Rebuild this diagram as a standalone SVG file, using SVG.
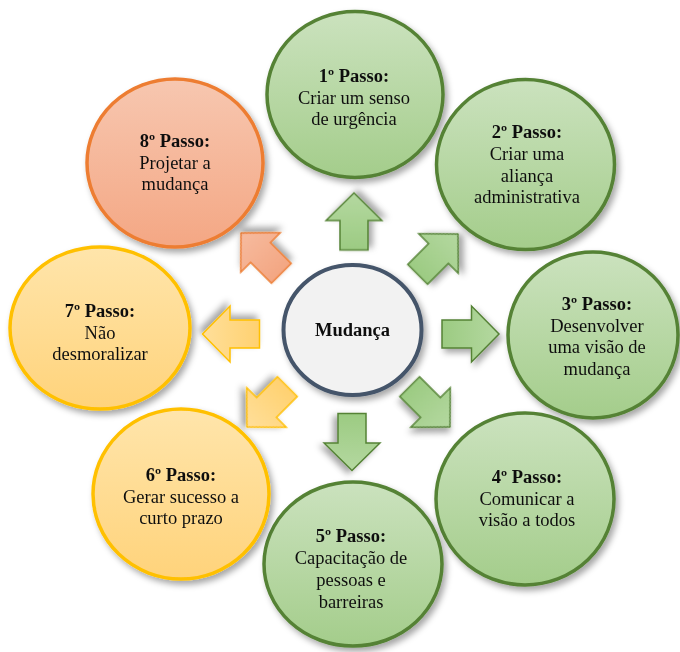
<svg xmlns="http://www.w3.org/2000/svg" xmlns:xlink="http://www.w3.org/1999/xlink" width="680" height="652" viewBox="0 0 680 652">
  <defs>
    <filter id="shadow" x="-20%" y="-20%" width="150%" height="150%">
      <feDropShadow dx="3" dy="4" stdDeviation="3" flood-color="#000" flood-opacity="0.35"/>
    </filter>
    <linearGradient id="gGreen" x1="0" y1="0" x2="0" y2="1">
      <stop offset="0" stop-color="#cbe2be"/>
      <stop offset="1" stop-color="#a4cd8b"/>
    </linearGradient>
    <linearGradient id="gOrange" x1="0" y1="0" x2="0" y2="1">
      <stop offset="0" stop-color="#f7c7b0"/>
      <stop offset="1" stop-color="#f4a784"/>
    </linearGradient>
    <linearGradient id="gYellow" x1="0" y1="0" x2="0" y2="1">
      <stop offset="0" stop-color="#ffe5ab"/>
      <stop offset="1" stop-color="#ffd37b"/>
    </linearGradient>
    <linearGradient id="aGreen" x1="0" y1="0" x2="1" y2="0">
      <stop offset="0" stop-color="#9ccb82"/>
      <stop offset="1" stop-color="#b4d8a0"/>
    </linearGradient>
    <linearGradient id="aOrange" x1="0" y1="0" x2="1" y2="0">
      <stop offset="0" stop-color="#f3a682"/>
      <stop offset="1" stop-color="#f6bb9f"/>
    </linearGradient>
    <linearGradient id="aYellow" x1="0" y1="0" x2="1" y2="0">
      <stop offset="0" stop-color="#ffd170"/>
      <stop offset="1" stop-color="#ffdf9a"/>
    </linearGradient>
    <!-- block arrow pointing right, centred on the origin -->
    <path id="arrow" d="M-28.5,-14 H1 V-28 L28.5,0 L1,28 V14 H-28.5 Z"/>
    <style>
      .node { filter: url(#shadow); }
      .green { fill: url(#gGreen); stroke: #548235; stroke-width: 3.5; }
      .orange { fill: url(#gOrange); stroke: #ed7d31; stroke-width: 3.5; }
      .yellow { fill: url(#gYellow); stroke: #ffc000; stroke-width: 3.5; }
      .hub { fill: #f2f2f2; stroke: #44546a; stroke-width: 4; }
      .arr { filter: url(#shadow); stroke-width: 1.5; stroke-linejoin: miter; }
      .arr-green { fill: url(#aGreen); stroke: #548235; }
      .arr-orange { fill: url(#aOrange); stroke: #ed7d31; }
      .arr-yellow { fill: url(#aYellow); stroke: #ffc000; }
      text { font-family: "Liberation Serif", "Times New Roman", serif; font-size: 18.5px; fill: #111; text-anchor: middle; }
      .b { font-weight: bold; }
    </style>
  </defs>

  <rect width="680" height="652" fill="#ffffff"/>

  <!-- arrows from the hub towards each step -->
  <g id="connectors">
    <use xlink:href="#arrow" class="arr arr-green" transform="translate(354,221.5) rotate(-90)"/>
    <use xlink:href="#arrow" class="arr arr-green" transform="translate(437.8,254.2) rotate(-45)"/>
    <use xlink:href="#arrow" class="arr arr-green" transform="translate(470.5,334)"/>
    <use xlink:href="#arrow" class="arr arr-green" transform="translate(429.8,406.8) rotate(45)"/>
    <use xlink:href="#arrow" class="arr arr-green" transform="translate(352,442) rotate(90)"/>
    <use xlink:href="#arrow" class="arr arr-yellow" transform="translate(267.2,406.8) rotate(135)"/>
    <use xlink:href="#arrow" class="arr arr-yellow" transform="translate(231,334) rotate(180)"/>
    <use xlink:href="#arrow" class="arr arr-orange" transform="translate(261.2,253.2) rotate(-135)"/>
  </g>

  <g id="hub" class="node">
    <ellipse class="hub" cx="352.5" cy="330" rx="69" ry="65"/>
    <text class="b" x="352.5" y="336">Mudança</text>
  </g>

  <g id="step1" class="node">
    <ellipse class="green" cx="355" cy="94.5" rx="88" ry="83"/>
    <text class="b" x="354" y="82">1º Passo:</text>
    <text x="354" y="103.5">Criar um senso</text>
    <text x="354" y="125">de urgência</text>
  </g>

  <g id="step2" class="node">
    <ellipse class="green" cx="525.5" cy="164.5" rx="89" ry="85"/>
    <text class="b" x="527" y="138">2º Passo:</text>
    <text x="527" y="160">Criar uma</text>
    <text x="527" y="181.5">aliança</text>
    <text x="527" y="203">administrativa</text>
  </g>

  <g id="step3" class="node">
    <ellipse class="green" cx="593" cy="335" rx="85" ry="83"/>
    <text class="b" x="597" y="310">3º Passo:</text>
    <text x="597" y="331.5">Desenvolver</text>
    <text x="597" y="353">uma visão de</text>
    <text x="597" y="374.5">mudança</text>
  </g>

  <g id="step4" class="node">
    <ellipse class="green" cx="525" cy="499" rx="89" ry="86"/>
    <text class="b" x="527" y="483">4º Passo:</text>
    <text x="527" y="504.5">Comunicar a</text>
    <text x="527" y="526">visão a todos</text>
  </g>

  <g id="step5" class="node">
    <ellipse class="green" cx="353" cy="564" rx="89" ry="82"/>
    <text class="b" x="351" y="542">5º Passo:</text>
    <text x="351" y="564">Capacitação de</text>
    <text x="351" y="586">pessoas e</text>
    <text x="351" y="607.5">barreiras</text>
  </g>

  <g id="step6" class="node">
    <ellipse class="yellow" cx="181" cy="494" rx="88" ry="85"/>
    <text class="b" x="181" y="481">6º Passo:</text>
    <text x="181" y="502.5">Gerar sucesso a</text>
    <text x="181" y="524">curto prazo</text>
  </g>

  <g id="step7" class="node">
    <ellipse class="yellow" cx="100" cy="328" rx="90" ry="81"/>
    <text class="b" x="100" y="317">7º Passo:</text>
    <text x="100" y="338.5">Não</text>
    <text x="100" y="360">desmoralizar</text>
  </g>

  <g id="step8" class="node">
    <ellipse class="orange" cx="175" cy="163" rx="88" ry="84"/>
    <text class="b" x="175" y="147">8º Passo:</text>
    <text x="175" y="168.5">Projetar a</text>
    <text x="175" y="190">mudança</text>
  </g>
</svg>
